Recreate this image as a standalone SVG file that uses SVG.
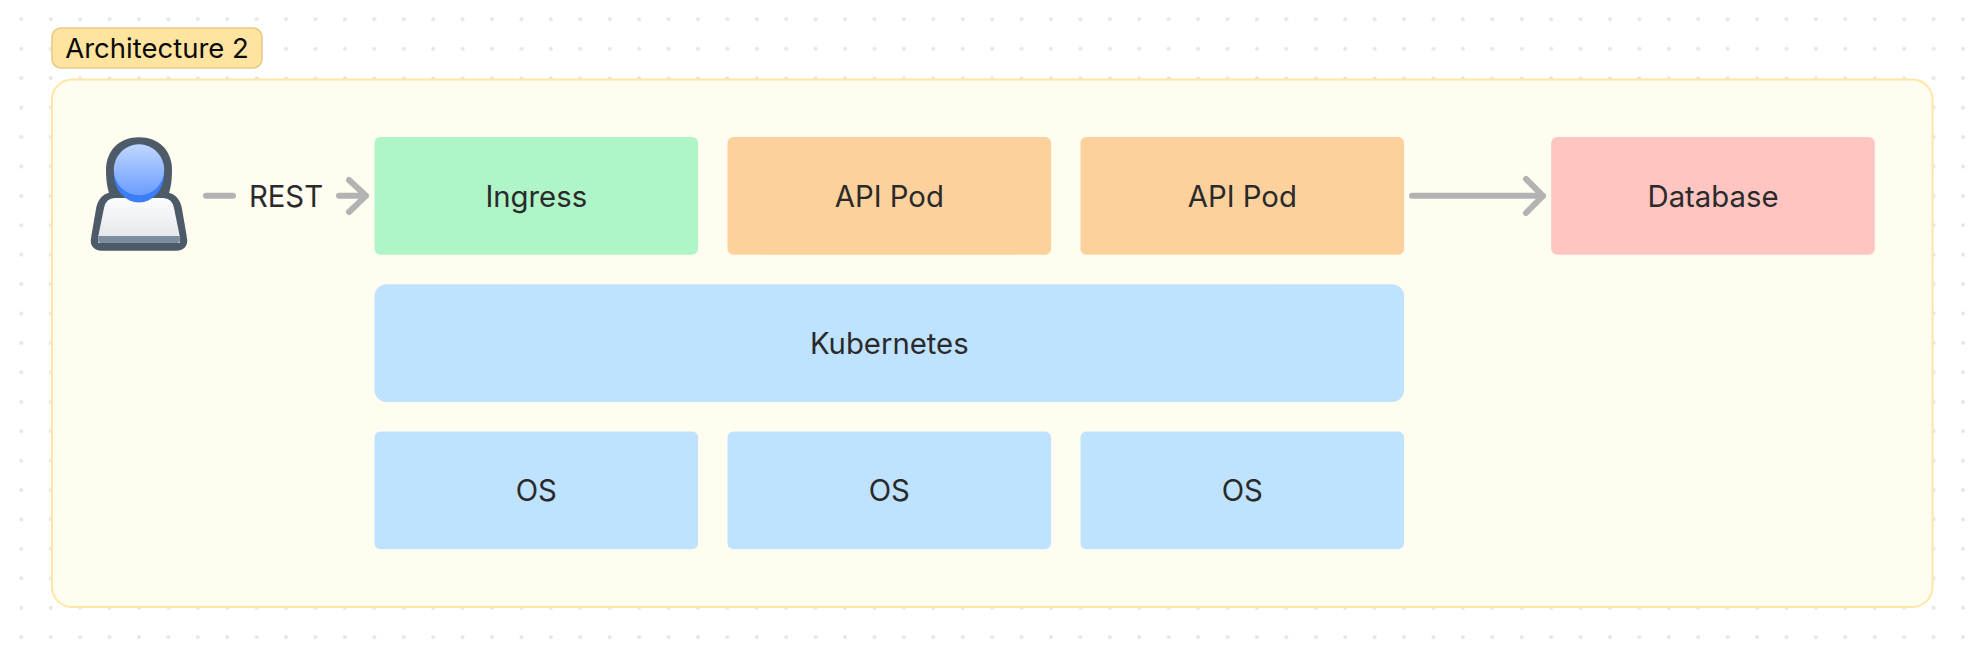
<svg xmlns="http://www.w3.org/2000/svg" width="1987" height="656" viewBox="0 0 1987 656">
<style>
.t{font-family:Inter,"Noto Sans","Liberation Sans",sans-serif;font-size:29.3px;text-anchor:middle;fill:#2a2a2c}
.h{font-family:Inter,"Noto Sans","Liberation Sans",sans-serif;font-size:27.5px;text-anchor:middle;fill:#0b0b0b}
.a{fill:none;stroke:#b3b3b3;stroke-width:6;stroke-linecap:round;stroke-linejoin:round}
</style>
<defs>
<pattern id="dots" x="6.6" y="4.6" width="29.42" height="29.42" patternUnits="userSpaceOnUse"><circle cx="14.71" cy="14.71" r="2" fill="#e6e6e8"/></pattern>
<linearGradient id="hg" x1="0" y1="0" x2="0" y2="1"><stop offset="0" stop-color="#c0d6ff"/><stop offset="1" stop-color="#6a9dff"/></linearGradient>
<linearGradient id="bg" x1="0" y1="0" x2="0" y2="1"><stop offset="0" stop-color="#fbfcfd"/><stop offset="1" stop-color="#e2e5e9"/></linearGradient>
</defs>
<rect width="1987" height="656" fill="#fff"/>
<rect id="grid" width="1987" height="656" fill="url(#dots)"/>
<g id="container"><rect x="52" y="79.5" width="1880.5" height="527.5" rx="20" fill="#fffcf0" stroke="#ffe6a3" stroke-width="2"/></g>
<g id="title"><rect x="52" y="28" width="210" height="40" rx="9" fill="#ffe4a0" stroke="#e6cb8a" stroke-width="1.6"/><text class="h" x="157" y="57.5">Architecture 2</text></g>
<g id="user">
<path d="M114,196H164Q175,196 178,208L183.2,238Q185,247 176,247H102Q93,247 94.8,238L100,208Q103,196 114,196Z" fill="#4d5a68" stroke="#4d5a68" stroke-width="7.5" stroke-linejoin="round"/>
<path d="M106,170C106,150 120,137.3 139,137.3C158,137.3 172,150 172,170C172,183 170,193 166,200H112C108,193 106,183 106,170Z" fill="#4d5a68"/>
<path d="M115,198H163Q172,198 174,208L179.7,236V243H98.3V236L104,208Q106,198 115,198Z" fill="url(#bg)"/>
<path d="M98.3,236H179.7V240Q179.7,243 176.7,243H101.3Q98.3,243 98.3,240Z" fill="#7b8d9e"/>
<ellipse cx="139" cy="173.4" rx="25.2" ry="29" fill="#3b7ef8"/>
<ellipse cx="139" cy="169.8" rx="25.2" ry="25.5" fill="url(#hg)"/>
</g>
<g id="ingress"><rect x="374.5" y="137" width="323.6" height="117.7" rx="6" fill="#aff5c7"/><text class="t" x="536.3" y="206.5">Ingress</text></g>
<g id="api1"><rect x="727.5" y="137" width="323.6" height="117.7" rx="6" fill="#fdd19b"/><text class="t" x="889.3" y="206.5">API Pod</text></g>
<g id="api2"><rect x="1080.5" y="137" width="323.6" height="117.7" rx="6" fill="#fdd19b"/><text class="t" x="1242.3" y="206.5">API Pod</text></g>
<g id="database"><rect x="1551.2" y="137" width="323.6" height="117.7" rx="6" fill="#ffc5c0"/><text class="t" x="1713" y="206.5">Database</text></g>
<g id="kubernetes"><rect x="374.5" y="284.3" width="1029.6" height="117.7" rx="12" fill="#bfe3ff"/><text class="t" x="889.3" y="354">Kubernetes</text></g>
<g id="os1"><rect x="374.5" y="431.6" width="323.6" height="117.7" rx="6" fill="#bfe3ff"/><text class="t" x="536.3" y="501">OS</text></g>
<g id="os2"><rect x="727.5" y="431.6" width="323.6" height="117.7" rx="6" fill="#bfe3ff"/><text class="t" x="889.3" y="501">OS</text></g>
<g id="os3"><rect x="1080.5" y="431.6" width="323.6" height="117.7" rx="6" fill="#bfe3ff"/><text class="t" x="1242.3" y="501">OS</text></g>
<g id="connectors">
<path class="a" d="M206,195.8H233"/>
<path class="a" d="M339,195.8H366M349,180L366,195.8L349,212"/>
<text class="t" x="286" y="206.5">REST</text>
<path class="a" d="M1412,195.8H1543M1526,179L1543,195.8L1526,213"/>
</g>
</svg>
